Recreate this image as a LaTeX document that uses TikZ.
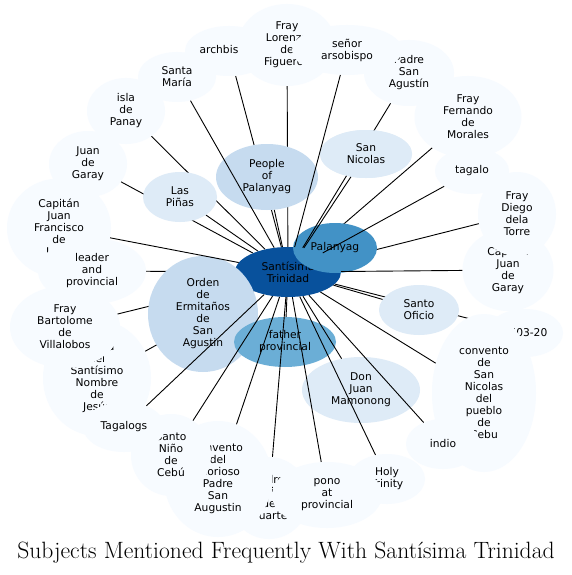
\documentclass[tikz,border=0pt]{standalone}
\usepackage{fontspec}
\usetikzlibrary{shapes.geometric}
\newfontfamily\nodefont{DejaVu Sans}
\definecolor{bA}{HTML}{F7FBFF}
\definecolor{bB}{HTML}{DEEBF7}
\definecolor{bC}{HTML}{C6DBEF}
\definecolor{bE}{HTML}{6BAED6}
\definecolor{bF}{HTML}{4292C6}
\definecolor{bH}{HTML}{08519C}
\pgfdeclarelayer{bg}
\pgfdeclarelayer{paper}
\pgfsetlayers{paper,bg,main}
\tikzset{
  bub/.style={ellipse, inner sep=0pt, align=center, draw=none,
    font=\nodefont\fontsize{10.7}{12}\selectfont},
  sz/.style 2 args={minimum width=#1pt, minimum height=#2pt},
  lnk/.style={draw=black, line width=0.9pt},
  ttl/.style={font=\fontsize{23.6}{26}\selectfont, inner sep=0pt},
}
\begin{document}
\begin{tikzpicture}[x=1pt,y=-1pt]
\begin{pgfonlayer}{paper}
\fill[white] (0,0) rectangle (572,575);
\end{pgfonlayer}
\useasboundingbox (0,0) rectangle (572,575);
% light nodes
\node[bub, fill=bA, sz={88}{50}] (AB) at (229,51) {archbishop};
\node[bub, fill=bA, sz={78}{50}] (SM) at (177,77) {Santa\\María};
\node[bub, fill=bA, sz={98}{82}] (FL) at (287,45) {Fray\\Lorenzo\\de\\Figueroa};
\node[bub, fill=bA, sz={90}{66}] (PS) at (409,73) {Padre\\San\\Agustín};
\node[bub, fill=bA, sz={110}{50}] (SA) at (347,50) {señor\\arsobispo};
\node[bub, fill=bA, sz={107}{82}] (FF) at (468,117) {Fray\\Fernando\\de\\Morales};
\node[bub, fill=bA, sz={74}{46}] (TG) at (472,171) {tagalo};
\node[bub, fill=bA, sz={91}{82}] (CJ) at (508,270) {Capitán\\Juan\\de\\Garay};
\node[bub, fill=bA, sz={78}{84}] (FD) at (517,214) {Fray\\Diego\\dela\\Torre};
\node[bub, fill=bA, sz={76}{48}] (YR) at (525,333) {1603-20};
\node[bub, fill=bA, sz={104}{158}] (CS) at (484,393) {convento\\de\\San\\Nicolas\\del\\pueblo\\de\\Cebu};
\node[bub, fill=bA, sz={74}{50}] (IN) at (443,444) {indio};
\node[bub, fill=bA, sz={76}{50}] (HT) at (387,479) {Holy\\Trinity};
\node[bub, fill=bA, sz={80}{82}] (DU) at (269,498) {Padre\\Luis\\de\\Duarte};
\node[bub, fill=bA, sz={110}{66}] (PO) at (327,495) {pono\\at\\provincial};
\node[bub, fill=bA, sz={108}{116}] (GL) at (218,479) {convento\\del\\Glorioso\\Padre\\San\\Augustin};
\node[bub, fill=bA, sz={80}{82}] (SNB) at (171,455) {Santo\\Niño\\de\\Cebú};
\node[bub, fill=bA, sz={108}{116}] (ES) at (97,378) {Iglesia\\del\\Santísimo\\Nombre\\de\\Jesús};
\node[bub, fill=bA, sz={82}{50}] (TA) at (124,427) {Tagalogs};
\node[bub, fill=bA, sz={110}{82}] (BV) at (65,327) {Fray\\Bartolome\\de\\Villalobos};
\node[bub, fill=bA, sz={104}{99}] (CJF) at (59,228) {Capitán\\Juan\\Francisco\\de\\Lugo};
\node[bub, fill=bA, sz={108}{66}] (LE) at (92,271) {leader\\and\\provincial};
\node[bub, fill=bA, sz={78}{66}] (JG) at (88,164) {Juan\\de\\Garay};
\node[bub, fill=bA, sz={78}{66}] (IP) at (126,111) {isla\\de\\Panay};
% coloured nodes
\node[bub, fill=bH, sz={106}{50}] (C) at (288,272) {Santísima\\Trinidad};
\node[bub, fill=bC, sz={110}{116}] (O) at (203,314) {Orden\\de\\Ermitaños\\de\\San\\Agustin};
\node[bub, fill=bF, sz={84}{50}] (P) at (335,248) {Palanyag};
\node[bub, fill=bE, sz={102}{50}] (F) at (285,342) {father\\provincial};
\node[bub, fill=bC, sz={102}{66}] (PP) at (267,177) {People\\of\\Palanyag};
\node[bub, fill=bB, sz={74}{50}] (LP) at (180,197) {Las\\Piñas};
\node[bub, fill=bB, sz={92}{48}] (SN) at (366,154) {San\\Nicolas};
\node[bub, fill=bB, sz={80}{50}] (SO) at (419,310) {Santo\\Oficio};
\node[bub, fill=bB, sz={118}{66}] (DJ) at (361,390) {Don\\Juan\\Mamonong};
% edges hidden under the bubbles
\begin{pgfonlayer}{bg}
\foreach \n in {AB,FL,IP,JG,LE,BV,ES,FF,FD,YR,LP}
  \draw[lnk] (\n) -- (C);
\end{pgfonlayer}
% edges drawn over the bubbles
\draw[lnk] (PS) -- (C);
\node[bub, fill=bB, sz={92}{48}] (SNtop) at (366,154) {San\\Nicolas};
\foreach \n in {SM,SA,PP,TG,CJ,SO,CS,IN,HT,PO,DU,GL,SNB,TA,CJF,F,DJ,SN}
  \draw[lnk] (\n) -- (C);
% title
\node[ttl] (T) at (286,553) {Subjects Mentioned Frequently With Santísima Trinidad};
\end{tikzpicture}
\end{document}
